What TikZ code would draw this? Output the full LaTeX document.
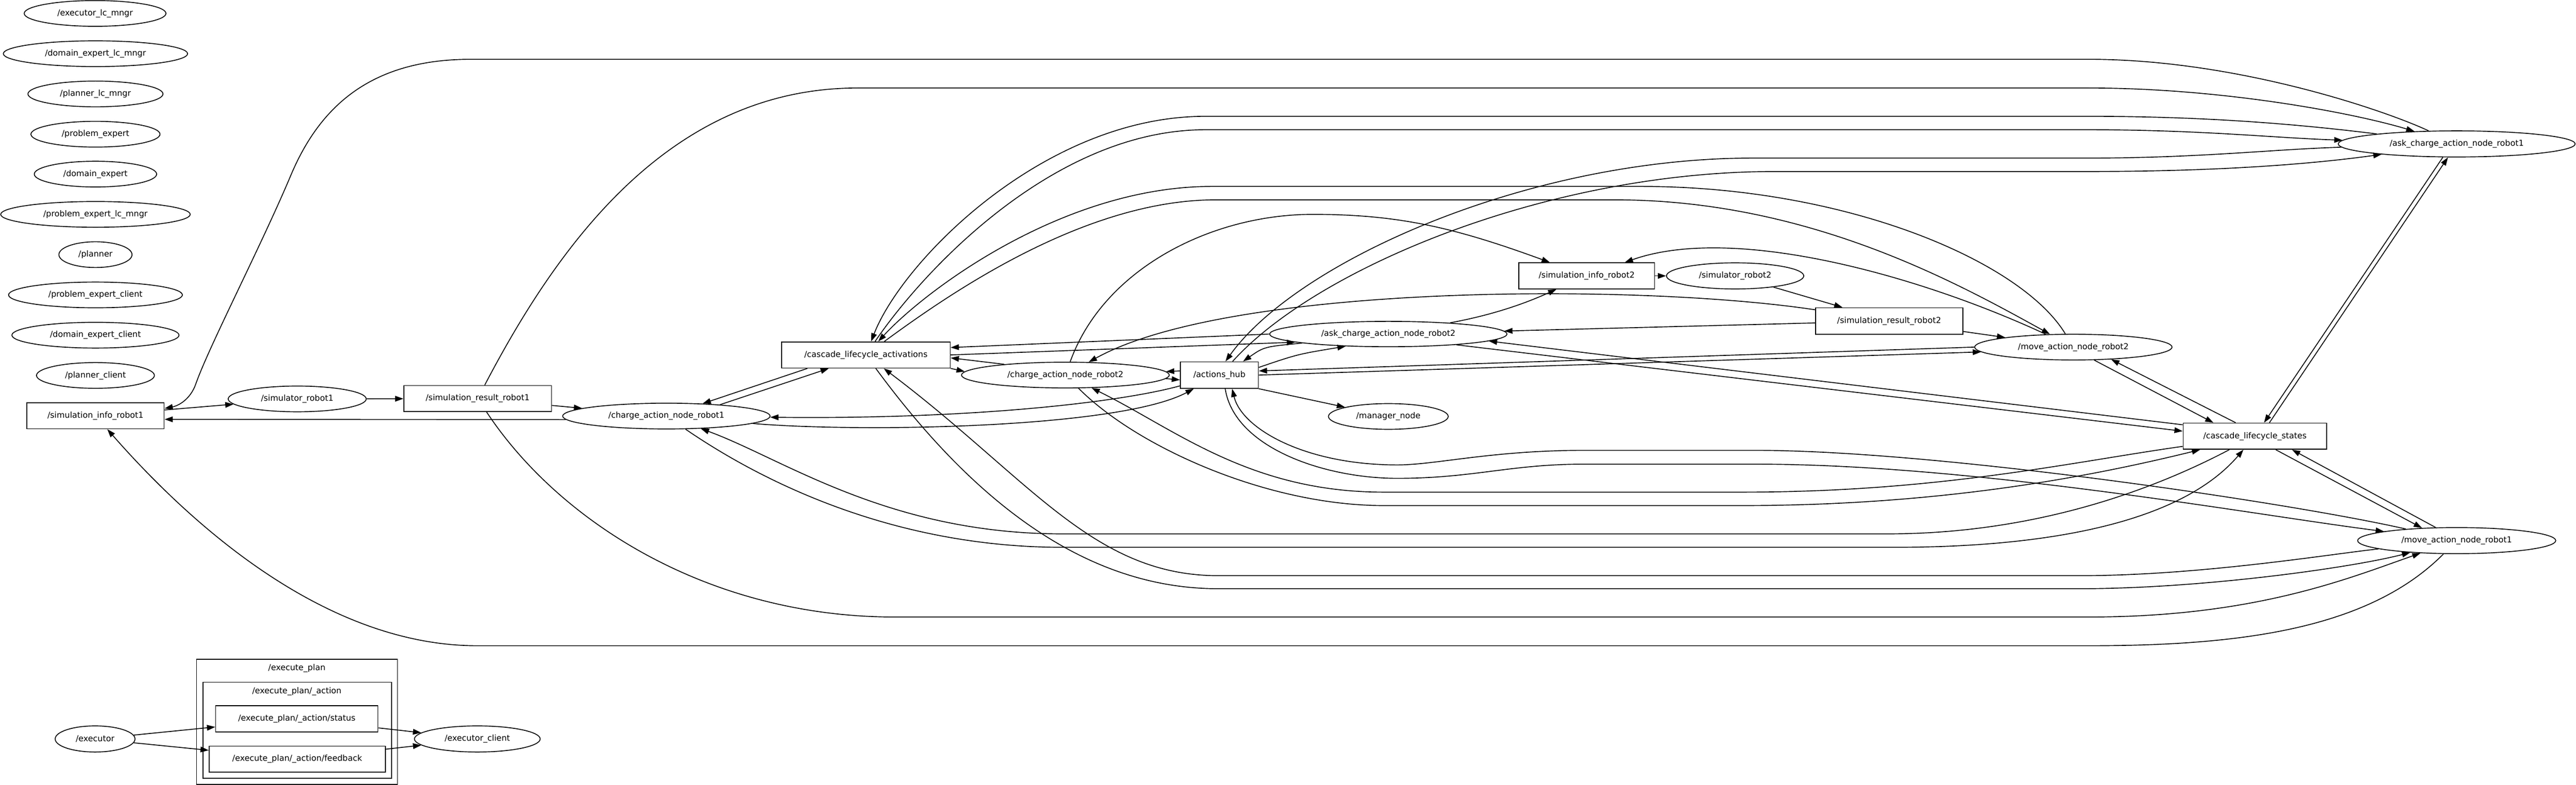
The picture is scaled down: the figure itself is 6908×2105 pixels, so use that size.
\documentclass[tikz,border=0pt]{standalone}
\usepackage{fontspec}
\setmainfont{DejaVu Sans}
\usepackage{xcolor}
\usetikzlibrary{shapes.geometric,arrows.meta}

\begin{document}
\begin{tikzpicture}[x=0.01cm, y=-0.01cm, line width=0.65pt,
    every node/.style={font=\fontsize{6.26pt}{7.5pt}\selectfont},
    topic/.style={draw, rectangle, inner sep=0pt, minimum height=0.70cm},
    proc/.style={draw, ellipse, inner sep=0pt, minimum height=0.69cm},
    link/.style={-{Triangle[length=6.3pt,width=4.3pt]}}]
      \path[use as bounding box, fill=white] (0,0) rectangle (6908,2105);
      \node[proc, minimum width=3.80cm] (execlc) at (255,36) {/executor\_lc\_mngr};
      \node[proc, minimum width=4.94cm] (domlc) at (256,144) {/domain\_expert\_lc\_mngr};
      \node[proc, minimum width=3.62cm] (planlc) at (256,252) {/planner\_lc\_mngr};
      \node[proc, minimum width=3.46cm] (probexp) at (256,360) {/problem\_expert};
      \node[proc, minimum width=3.28cm] (domexp) at (256,467) {/domain\_expert};
      \node[proc, minimum width=5.08cm] (problc) at (256,575) {/problem\_expert\_lc\_mngr};
      \node[proc, minimum width=1.96cm] (planner) at (256,683) {/planner};
      \node[proc, minimum width=4.66cm] (probcl) at (256,791) {/problem\_expert\_client};
      \node[proc, minimum width=4.48cm] (domcl) at (256,899) {/domain\_expert\_client};
      \node[proc, minimum width=3.16cm] (plancl) at (256,1007) {/planner\_client};
      \node[topic, minimum width=3.68cm] (info1) at (256,1115) {/simulation\_info\_robot1};
      \node[proc, minimum width=3.70cm] (sim1) at (797,1070) {/simulator\_robot1};
      \node[topic, minimum width=3.96cm] (res1) at (1281,1069) {/simulation\_result\_robot1};
      \node[proc, minimum width=5.56cm] (charge1) at (1787,1116) {/charge\_action\_node\_robot1};
      \node[topic, minimum width=4.52cm] (act) at (2322,952) {/cascade\_lifecycle\_activations};
      \node[proc, minimum width=5.57cm] (charge2) at (2857,1006) {/charge\_action\_node\_robot2};
      \node[topic, minimum width=2.09cm, minimum height=0.71cm] (hub) at (3270,1006) {/actions\_hub};
      \node[proc, minimum width=6.36cm, minimum height=0.68cm] (ask2) at (3723,896) {/ask\_charge\_action\_node\_robot2};
      \node[proc, minimum width=3.21cm] (mgr) at (3723,1117) {/manager\_node};
      \node[topic, minimum width=3.64cm] (info2) at (4255,740) {/simulation\_info\_robot2};
      \node[proc, minimum width=3.68cm, minimum height=0.70cm] (sim2) at (4653,740) {/simulator\_robot2};
      \node[topic, minimum width=3.95cm, minimum height=0.71cm] (res2) at (5066,861) {/simulation\_result\_robot2};
      \node[proc, minimum width=5.29cm] (move2) at (5560,931) {/move\_action\_node\_robot2};
      \node[topic, minimum width=3.85cm] (states) at (6047,1170) {/cascade\_lifecycle\_states};
      \node[proc, minimum width=6.35cm, minimum height=0.70cm] (ask1) at (6588,386) {/ask\_charge\_action\_node\_robot1};
      \node[proc, minimum width=5.31cm, minimum height=0.70cm] (move1) at (6588,1450) {/move\_action\_node\_robot1};
      \draw (527,1768) rectangle (1066,2104);
      \node (planlbl) at (796,1793) {/execute\_plan};
      \draw (544,1830) rectangle (1050,2088);
      \node (actionlbl) at (796,1854) {/execute\_plan/\_action};
      \node[topic, minimum width=4.35cm] (status) at (796,1928) {/execute\_plan/\_action/status};
      \node[topic, minimum width=4.72cm] (feedback) at (797,2036) {/execute\_plan/\_action/feedback};
      \node[proc, minimum width=2.14cm, minimum height=0.70cm] (exe) at (255,1982) {/executor};
      \node[proc, minimum width=3.37cm, minimum height=0.70cm] (execcl) at (1280,1982) {/executor\_client};
      \draw[link] (info1) -- (sim1);
      \draw[link] (sim1) -- (res1);
      \draw[link] (res1) -- (charge1);
      \draw[link] (charge1.182) -- (info1.-3);
      \draw[link] (ask1.155) .. controls (6400,298) and (6000,159) .. (5600,159) -- (1263,159) .. controls (1000,159) and (860,280) .. (780,470) .. controls (700,660) and (560,930) .. (525,1030) .. controls (511,1070) and (480,1088) .. (info1.6);
      \draw[link] (res1) .. controls (1500,650) and (1800,236) .. (2300,236) -- (5600,236) .. controls (5950,236) and (6300,300) .. (ask1);
      \draw[link] (res1) .. controls (1500,1400) and (1900,1655) .. (2400,1655) -- (5600,1655) .. controls (6050,1655) and (6300,1550) .. (move1);
      \draw[link] (move1) .. controls (6350,1690) and (6000,1732) .. (5600,1732) -- (1280,1732) .. controls (900,1732) and (550,1450) .. (info1);
      \draw[link] (info2) -- (sim2);
      \draw[link] (sim2) -- (res2);
      \draw[link] (res2) .. controls (4400,760) and (3300,760) .. (charge2);
      \draw[link] (charge2) .. controls (2960,720) and (3250,575) .. (3520,575) .. controls (3750,575) and (3900,610) .. (info2);
      \draw[link] (res2) -- (ask2);
      \draw[link] (ask2) .. controls (4030,840) and (4120,800) .. (info2);
      \draw[link] (res2) -- (move2);
      \draw[link] (move2) .. controls (5150,740) and (4650,600) .. (info2);
      \draw[link] (charge1.12) -- (act.200);
      \draw[link] (act.193) -- (charge1.19);
      \draw[link] (charge2.170) -- (act.-2);
      \draw[link] (act.south east) -- (charge2.178);
      \draw[link] (ask2.west) -- (act.5);
      \draw[link] (act.east) -- (ask2.185);
      \draw[link] (ask1) .. controls (6100,325) and (5850,312) .. (5600,312) -- (3232,312) .. controls (2800,312) and (2420,700) .. (act);
      \draw[link] (act) .. controls (2480,720) and (2830,348) .. (3232,348) -- (5600,348) .. controls (5900,348) and (6100,370) .. (ask1);
      \draw[link] (move2) .. controls (5420,700) and (4950,500) .. (4400,500) -- (3250,500) .. controls (2850,500) and (2480,780) .. (act);
      \draw[link] (act) .. controls (2530,800) and (2900,536) .. (3260,536) -- (4330,536) .. controls (4850,536) and (5250,760) .. (move2);
      \draw[link] (move1) .. controls (6250,1486) and (5900,1544) .. (5578,1544) -- (3266,1544) .. controls (2930,1544) and (2760,1282) .. (act);
      \draw[link] (act) .. controls (2600,1330) and (2900,1579) .. (3266,1579) -- (5578,1579) .. controls (5900,1579) and (6300,1524) .. (move1);
      \draw[link] (charge1) .. controls (1990,1255) and (2350,1468) .. (2850,1468) -- (5078,1468) .. controls (5500,1468) and (5850,1400) .. (states);
      \draw[link] (states) .. controls (5800,1300) and (5480,1432) .. (5060,1432) -- (2850,1432) .. controls (2380,1432) and (2100,1230) .. (charge1);
      \draw[link] (charge2) .. controls (3050,1200) and (3400,1356) .. (3710,1356) -- (4672,1356) .. controls (5200,1356) and (5600,1280) .. (states);
      \draw[link] (states) .. controls (5550,1240) and (5200,1320) .. (4672,1320) -- (3710,1320) .. controls (3350,1320) and (3150,1150) .. (charge2);
      \draw[link] (ask2.-9) -- (states.176);
      \draw[link] (states.171) -- (ask2.-4);
      \draw[link] (ask1.224) -- (states.56);
      \draw[link] (states.43) -- (ask1.237);
      \draw[link] (move2.-32) -- (states.162);
      \draw[link] (states.145) -- (move2.-18);
      \draw[link] (states.-33) -- (move1.160);
      \draw[link] (move1.148) -- (states.-20);
      \draw[link] (hub) .. controls (3000,1080) and (2600,1125) .. (charge1);
      \draw[link] (charge1) .. controls (2300,1160) and (3000,1150) .. (hub);
      \draw[link] (hub.174) -- (charge2.2);
      \draw[link] (charge2.-2) -- (hub.187);
      \draw[link] (ask2.186) .. controls (3390,930) .. (hub.30);
      \draw[link] (hub.11) .. controls (3480,950) .. (ask2.196);
      \draw[link] (ask1) .. controls (6100,400) and (5900,424) .. (5600,424) -- (4700,424) .. controls (4100,424) and (3480,700) .. (hub.66);
      \draw[link] (hub.46) .. controls (3530,720) and (4150,460) .. (4760,460) -- (5600,460) .. controls (5950,460) and (6200,440) .. (ask1);
      \draw[link] (move2.west) -- (hub.6);
      \draw[link] (hub.east) -- (move2.183);
      \draw[link] (move1) .. controls (6150,1350) and (5200,1208) .. (4709,1208) -- (4246,1208) .. controls (4000,1208) and (3850,1247) .. (3747,1247) .. controls (3500,1247) and (3330,1150) .. (hub.-47);
      \draw[link] (hub.-67) .. controls (3310,1200) and (3550,1283) .. (3747,1283) .. controls (3950,1283) and (4050,1245) .. (4246,1245) -- (4709,1245) .. controls (5300,1245) and (6050,1382) .. (move1);
      \draw[link] (hub.south east) -- (mgr);
      \draw[link] (exe) -- (status);
      \draw[link] (exe) -- (feedback);
      \draw[link] (status) -- (execcl);
      \draw[link] (feedback) -- (execcl);
    \end{tikzpicture}
\end{document}
